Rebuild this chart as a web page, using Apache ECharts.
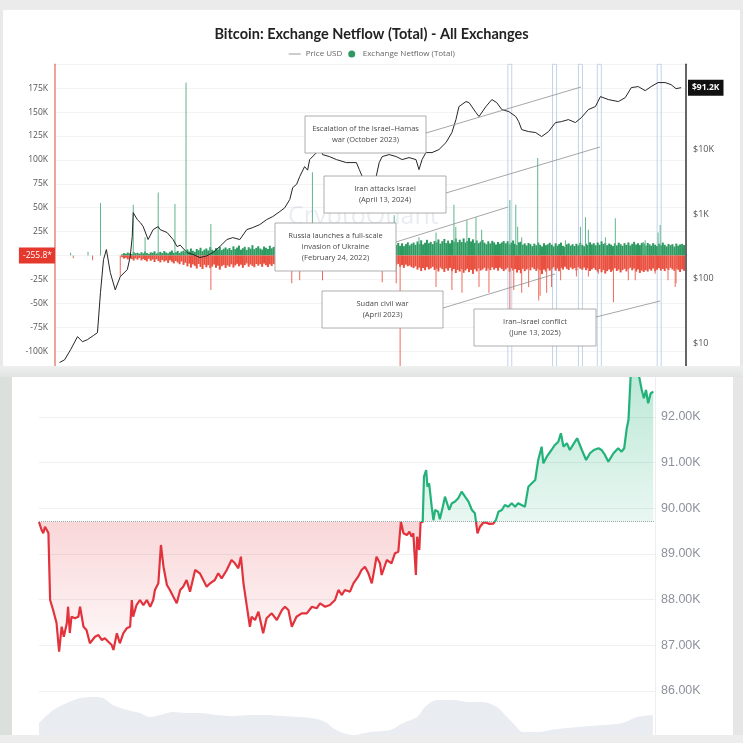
<!DOCTYPE html>
<html><head><meta charset="utf-8">
<script src="https://cdn.jsdelivr.net/npm/echarts@6/dist/echarts.min.js"></script>
<style>html,body{margin:0;padding:0;background:#e8eae9;}#c{width:743px;height:743px;}</style>
</head><body><div id="c"></div>
<script>
// ---------------- TOP CHART DATA ----------------
const priceDates = ['2012-05-03','2012-06-12','2012-07-30','2012-09-23','2012-11-01','2012-12-10','2013-01-27','2013-02-28','2013-03-24','2013-04-17','2013-05-10','2013-06-10','2013-07-19','2013-08-28','2013-10-23','2013-11-15','2013-12-01','2013-12-09','2014-01-10','2014-02-03','2014-02-26','2014-04-06','2014-05-16','2014-06-25','2014-07-10','2014-09-04','2014-10-21','2014-11-22','2014-12-16','2015-02-09','2015-03-28','2015-05-22','2015-07-16','2015-09-02','2015-10-27','2015-12-22','2016-02-07','2016-04-03','2016-05-28','2016-07-15','2016-09-08','2016-11-02','2016-12-20','2017-02-14','2017-03-25','2017-05-04','2017-05-28','2017-06-28','2017-07-22','2017-08-30','2017-09-23','2017-10-09','2017-12-03','2017-12-20','2018-01-19','2018-03-15','2018-05-10','2018-07-27','2018-10-15','2018-11-07','2018-12-01','2019-01-25','2019-03-21','2019-04-14','2019-05-08','2019-07-02','2019-08-27','2019-10-13','2019-12-07','2020-01-31','2020-02-24','2020-03-19','2020-04-19','2020-06-06','2020-07-31','2020-09-25','2020-11-11','2020-12-13','2021-01-06','2021-03-03','2021-03-27','2021-05-21','2021-06-14','2021-08-08','2021-09-24','2021-11-02','2021-12-12','2022-02-06','2022-04-02','2022-04-25','2022-05-19','2022-07-13','2022-09-07','2022-10-24','2022-12-18','2023-02-11','2023-03-30','2023-05-25','2023-07-19','2023-09-05','2023-10-30','2023-12-25','2024-02-03','2024-04-06','2024-06-24','2024-08-18','2024-10-05','2024-11-29','2025-01-23','2025-03-11','2025-05-05','2025-06-30','2025-08-16','2025-09-25','2025-11-04'];
const priceUSD = [5.0,5.5,7.9,12.6,10.5,11.3,13.1,14.5,61,197,282,124,67,107,138,219,448,1055,822,738,640,403,575,640,575,517,403,313,330,253,236,212,225,253,313,403,432,403,575,618,687,822,914,1094,1250,1679,2576,2900,3810,5445,4800,6998,8980,14300,8363,7788,6998,6283,6283,4893,3810,3427,3810,6283,7788,8363,7788,6998,7516,6998,4893,6998,8980,8980,10000,12840,18360,29170,46450,55500,53530,37500,32500,46450,59600,53530,41690,38800,32500,27160,20400,19010,18360,15920,19010,26230,27160,29170,26230,31330,41690,46450,66370,59600,55500,63970,91400,94800,82000,94800,109400,109400,101800,88000,91200];

// half-monthly netflow (1st & 16th), Sep 2013 .. Nov 2025, thousands of BTC
const netflowStartMonth = '2013-09';
const inflowK = [1.2,2.5,1.8,3.1,2.2,1.5,3.6,2.4,
 2.8,1.9,3.4,2.2,4.1,2.6,1.7,3.3,2.9,4.4,2.1,3.0,3.8,2.5,4.6,3.1,2.3,3.9,5.2,2.8,3.5,4.8,2.7,4.2,
 5.1,3.6,6.4,4.2,7.3,5.0,3.9,6.8,5.5,8.1,4.6,6.2,7.4,5.3,8.8,6.0,4.9,7.7,6.3,9.2,5.6,7.1,8.4,6.5,
 7.9,5.8,9.6,6.7,8.3,10.4,6.1,7.6,9.1,5.9,8.7,7.2,10.8,6.6,8.0,9.7,7.3,6.2,9.4,8.1,6.8,10.2,7.5,8.9,
 9.8,7.1,8.6,11.3,7.7,9.3,6.9,10.5,8.2,12.1,7.4,9.0,10.9,8.5,7.2,11.6,9.5,8.0,12.8,9.2,10.1,8.4,11.9,9.7,
 12.4,9.1,10.6,8.3,11.2,9.8,7.9,10.3,8.8,11.7,9.4,8.1,10.0,7.6,9.9,8.7,11.1,7.8,9.3,10.7,8.2,9.6,11.4,8.9,
 9.2,7.7,10.5,8.6,11.8,9.9,12.6,10.2,8.9,11.5,13.4,9.7,10.8,12.2,9.4,11.0,13.1,10.1,12.7,9.8,11.9,13.8,10.6,12.3,
 13.5,11.2,14.7,12.1,15.9,11.6,13.3,16.4,12.8,14.2,11.9,15.1,13.7,16.8,12.4,14.9,17.3,13.0,15.6,12.7,16.1,14.4,17.8,13.9,
 16.5,14.1,17.9,13.6,15.2,18.4,14.7,16.9,13.2,15.8,12.9,14.6,16.2,13.4,11.8,14.9,12.6,15.3,13.8,11.5,14.2,12.3,13.7,15.1,
 12.8,14.9,11.6,13.5,15.7,12.2,10.9,13.8,14.4,11.3,12.7,10.5,13.1,11.9,9.8,12.4,10.7,13.6,11.2,9.5,12.9,10.8,11.7,13.3,
 11.4,9.6,12.8,10.3,11.9,13.5,10.1,9.2,11.7,12.6,10.4,11.8,9.9,12.3,10.6,13.2,11.1,9.7,12.4,10.9,13.8,11.6,12.9,10.7,
 13.6,11.3,14.8,12.0,13.1,10.8,12.5,11.4,9.9,12.7,10.6,13.4,11.8,10.2,12.9,11.1,13.7,10.5,12.2,14.3,11.5,12.8,10.9,13.2,
 12.6,10.4,13.1,11.7,10.2,12.9,11.3,9.8,12.4,10.7,13.5,11.2,9.6,12.1,10.8,11.9,9.4,12.5,10.3,11.6,12.2,10.9];
const outflowK = [-1.8,-3.2,-2.4,-4.1,-2.9,-3.6,-5.2,-3.1,
 -4.3,-2.7,-5.1,-3.6,-4.8,-6.2,-3.4,-5.5,-4.1,-6.8,-3.9,-5.7,-7.2,-4.6,-6.4,-5.3,-7.8,-4.9,-6.6,-8.3,-5.8,-7.4,-9.1,-6.3,
 -9.8,-7.6,-11.4,-8.5,-12.7,-9.3,-10.8,-13.6,-8.9,-11.9,-14.2,-9.7,-12.4,-10.1,-13.3,-11.6,-9.4,-12.9,-10.7,-14.8,-11.2,-9.9,-13.1,-10.5,
 -11.8,-9.2,-12.6,-10.4,-8.7,-11.3,-9.6,-12.9,-10.1,-8.3,-11.7,-9.4,-10.8,-12.3,-8.9,-10.6,-9.1,-11.9,-8.5,-10.2,-12.1,-9.3,-10.9,-8.8,
 -9.6,-11.4,-8.2,-10.7,-12.5,-9.1,-7.9,-10.3,-11.8,-8.6,-10.9,-9.4,-12.2,-8.8,-11.1,-9.7,-13.4,-10.2,-8.9,-11.6,-12.8,-9.5,-14.1,-10.6,
 -12.3,-10.1,-13.7,-9.4,-11.2,-8.6,-10.8,-9.3,-7.9,-10.5,-8.8,-11.6,-9.2,-7.6,-10.1,-8.4,-9.7,-7.3,-8.9,-10.4,-7.8,-9.5,-11.3,-8.6,
 -9.4,-8.1,-10.6,-9.0,-11.9,-8.7,-10.3,-12.4,-9.8,-11.1,-8.9,-10.7,-12.6,-9.5,-11.4,-10.2,-8.8,-11.7,-10.0,-12.9,-9.6,-11.3,-10.5,-12.1,
 -13.2,-11.4,-14.8,-12.6,-16.3,-13.1,-15.4,-12.2,-14.6,-13.5,-11.8,-15.1,-13.9,-16.7,-12.8,-14.3,-17.2,-13.6,-15.8,-12.9,-16.4,-14.1,-18.3,-15.2,
 -16.8,-14.2,-18.1,-15.6,-13.9,-17.4,-15.1,-19.2,-14.4,-16.6,-13.3,-15.8,-14.7,-12.9,-16.1,-13.6,-15.4,-12.4,-14.8,-13.1,-15.9,-12.7,-14.2,-16.3,
 -14.6,-12.8,-16.9,-13.4,-15.7,-14.1,-17.8,-15.2,-18.6,-13.9,-16.4,-14.7,-13.2,-15.6,-12.5,-14.3,-16.1,-13.7,-15.3,-19.4,-14.8,-16.7,-13.5,-15.9,
 -14.1,-12.3,-15.8,-13.6,-16.4,-12.9,-14.7,-11.8,-13.9,-15.2,-12.6,-14.4,-13.1,-15.7,-12.2,-13.8,-14.9,-12.7,-15.4,-13.3,-16.2,-14.5,-13.0,-15.1,
 -16.8,-14.2,-17.5,-15.1,-18.9,-16.3,-14.7,-17.1,-15.6,-13.4,-16.2,-14.8,-17.7,-15.3,-13.9,-16.6,-14.1,-12.8,-15.5,-13.7,-16.9,-14.6,-18.2,-15.8,
 -17.2,-15.4,-16.8,-14.3,-15.9,-13.6,-16.5,-14.9,-13.2,-15.7,-14.1,-16.3,-13.5,-15.2,-12.9,-14.6,-16.1,-13.8,-15.0,-17.3,-14.4,-16.0];

const inflowSpikeDates = ['2012-07-30','2012-12-15','2013-03-24','2013-12-09','2014-03-13','2014-06-25','2014-11-05','2015-02-01','2015-08-17','2017-10-31','2019-08-11','2020-02-24','2020-07-08','2020-11-27','2020-12-12','2021-03-10','2021-05-21','2021-07-05','2022-02-14','2022-04-02','2022-04-17','2022-05-19','2022-09-23','2023-05-01','2023-08-28','2023-10-07','2023-10-30','2024-03-13','2024-05-31','2025-01-08','2025-01-23','2025-05-05','2025-05-22'];
const inflowSpikes = [3000,4000,55000,53000,19000,66000,54000,181000,33000,87000,42000,19000,24000,53000,30000,37000,40000,27000,58000,53000,30000,19000,102000,16000,30000,40000,27000,19000,39000,14000,16000,24000,32000];
const outflowSpikeDates = ['2012-08-20','2013-01-20','2013-08-28','2015-08-17','2017-05-20','2017-07-22','2018-01-19','2019-05-08','2019-08-27','2019-09-27','2020-07-08','2020-11-11','2021-01-30','2021-06-14','2021-09-01','2022-02-14','2022-03-17','2022-05-19','2022-07-13','2022-10-01','2022-10-12','2022-12-03','2023-01-11','2023-03-24','2023-07-27','2023-10-30','2024-01-17','2024-05-16','2024-09-11','2024-11-05','2025-04-12','2025-07-23','2025-09-18','2025-09-25'];
const outflowSpikes = [-3000,-5000,-22000,-36000,-29000,-26000,-26000,-28000,-29000,-122000,-33000,-36000,-39000,-33000,-39000,-60000,-36000,-39000,-33000,-47000,-42000,-39000,-33000,-26000,-22000,-22000,-19000,-49000,-26000,-26000,-19000,-26000,-33000,-29000];

const eventBands = [['2022-01-29','2022-03-01'],['2023-01-19','2023-02-20'],['2023-08-12','2023-09-13'],['2024-01-09','2024-02-10'],['2025-04-28','2025-05-30']];
const lastPriceLabel = '$91.2K';
const lastPrice = 91200;
const zeroLabel = '-255.8*';

const annotations = [
  {text:'Escalation of the Israel–Hamas\nwar (October 2023)', box:[305,116,121,37], line:[426,133,581,87]},
  {text:'Iran attacks Israel\n(April 13, 2024)', box:[324,176,122,37], line:[446,193,600,147]},
  {text:'Russia launches a full-scale\ninvasion of Ukraine\n(February 24, 2022)', box:[275,223,121,48], line:[396,242,508,207]},
  {text:'Sudan civil war\n(April 2023)', box:[322,291,121,37], line:[443,308,555,274]},
  {text:'Iran–Israel conflict\n(June 13, 2025)', box:[474,309,122,37], line:[596,317,660,301]}
];

// ---------------- BOTTOM CHART DATA ----------------
const intraTimes = ['00:00','00:06','00:10','00:14','00:18','00:22','00:26','00:33','00:41','00:47','00:53','00:58','01:05','01:08','01:12','01:16','01:24','01:32','01:36','01:44','01:51','01:59','02:11','02:19','02:27','02:34','02:42','02:50','02:54','03:02','03:09','03:17','03:25','03:33','03:37','03:40','03:48','03:56','04:04','04:12','04:20','04:27','04:31','04:39','04:45','04:51','04:59','05:06','05:14','05:22','05:30','05:37','05:45','05:53','06:05','06:16','06:24','06:32','06:40','06:51','06:59','07:07','07:19','07:30','07:38','07:46','07:52','07:58','08:06','08:13','08:17','08:25','08:33','08:44','08:52','09:04','09:16','09:28','09:35','09:43','09:51','10:02','10:14','10:26','10:38','10:49','10:57','11:09','11:20','11:32','11:40','11:48','11:55','12:07','12:15','12:26','12:34','12:42','12:50','12:58','13:05','13:09','13:17','13:21','13:33','13:44','13:52','14:00','14:06','14:12','14:20','14:26','14:31','14:35','14:41','14:44','14:49','14:52','14:57','15:00','15:05','15:08','15:12','15:18','15:22','15:26','15:33','15:37','15:44','15:49','15:53','15:59','16:05','16:12','16:20','16:28','16:36','16:44','16:52','16:59','17:05','17:11','17:19','17:27','17:33','17:42','17:48','17:54','18:02','18:09','18:17','18:25','18:33','18:40','18:48','18:56','19:04','19:12','19:20','19:27','19:35','19:39','19:47','19:58','20:06','20:14','20:20','20:26','20:34','20:41','20:53','20:58','21:09','21:19','21:28','21:37','21:48','21:55','22:03','22:11','22:23','22:34','22:42','22:48','22:54','22:58','23:03','23:09','23:17','23:23','23:29','23:34','23:39','23:44','23:50','23:56'];
const intraPrice = [89700,89526,89453,89598,89635,89460,87993,87774,87489,86861,87408,87189,87483,87846,87270,87627,87592,87627,87846,87408,87336,87045,87189,87226,87117,87154,87080,87007,86898,87263,87045,87263,87373,87408,87993,87627,87883,87993,87883,87993,87846,87993,88212,88358,89197,88722,88321,88212,88065,87920,88212,88284,88431,88175,88650,88577,88431,88284,88358,88431,88577,88468,88650,88869,88796,88687,88941,88358,87846,87408,87627,87555,87737,87263,87592,87701,87555,87774,87846,87774,87408,87627,87701,87701,87846,87811,87920,87846,87883,87993,88212,88102,88212,88175,88358,88503,88650,88722,88577,88358,88722,88941,88796,88540,88869,88796,89015,89050,89705,89453,89416,89488,89379,89453,88540,89379,89088,89690,89700,90693,90839,90474,90548,90036,89740,89964,89926,89760,90036,90255,90292,89964,90110,90145,90220,90364,90255,90145,89964,89891,89453,89598,89690,89680,89660,89665,89740,89926,89964,90073,90036,90110,90036,90110,90073,90036,90474,90548,90620,91058,91350,90986,91131,91277,91387,91459,91643,91350,91424,91277,91459,91534,91277,91058,91205,91277,91315,91277,91168,91021,91205,91315,91240,91315,91753,91934,92882,92957,92920,92882,92591,92409,92591,92300,92519,92554];
const referencePrice = 89710;
const volumeTimes = ['00:00','00:33','01:05','01:36','02:11','02:30','02:53','03:26','03:56','04:19','04:43','05:13','05:46','06:16','06:56','07:34','08:13','08:53','09:30','10:10','10:50','11:13','11:27','11:51','12:14','12:54','13:41','14:11','14:44','15:02','15:30','16:08','16:48','17:18','17:51','18:05','18:28','18:51','19:24','20:11','20:58','21:58','22:45','23:18','23:55'];
const volume = [12,25,32,37,38,37,30,25,22,18,20,23,22,22,20,19,20,20,19,18,16,12,7,2,0,3,5,12,18,28,35,35,33,33,28,22,12,3,3,6,8,10,12,18,20];

// ---------------- BUILD ----------------
function halfMonthDates(start, n){
  const [y0,m0] = start.split('-').map(Number); const out=[];
  for(let i=0;i<n;i++){const mm=m0-1+Math.floor(i/2); out.push((y0+Math.floor(mm/12))+'-'+String(mm%12+1).padStart(2,'0')+(i%2?'-23':'-08'));}
  return out;
}
const nfDates = halfMonthDates(netflowStartMonth, inflowK.length);
const toMin = t => { const [h,m]=t.split(':').map(Number); return h*60+m; };
const zip = (a,b) => a.map((d,i)=>[d,b[i]]);

const GREEN='#2e9a62', RED='#e9503f';
const UP='#22b27a', DOWN='#e2333d';
const chart = echarts.init(document.getElementById('c'), null, {renderer:'canvas'});

const graphics = [
  {type:'rect', z:-10, shape:{x:0,y:0,width:743,height:10}, style:{fill:'#ebebeb'}},
  {type:'rect', z:-9, shape:{x:3,y:10,width:737,height:356}, style:{fill:'#ffffff'}},
  {type:'rect', z:-9, shape:{x:12,y:377,width:721,height:358}, style:{fill:'#ffffff'}},
  {type:'text', z:1, style:{x:288, y:204, text:'CryptoQuant', fontSize:25, fontFamily:'Open Sans', fill:'rgba(120,140,175,0.16)'}},
  {type:'rect', z:200, shape:{x:0,y:366,width:743,height:11}, style:{fill:new echarts.graphic.LinearGradient(0,0,0,1,[{offset:0,color:'#eef0ef'},{offset:1,color:'#e2e4e3'}])}},
  {type:'rect', z:200, shape:{x:0,y:735,width:743,height:8}, style:{fill:'#ecedec'}},
  {type:'rect', z:200, shape:{x:0,y:377,width:12,height:358}, style:{fill:'#dbe0dc'}},
  {type:'rect', z:200, shape:{x:733,y:377,width:10,height:358}, style:{fill:'#e6e6e6'}}
];
annotations.forEach(a=>{
  graphics.push({type:'line', z:60, shape:{x1:a.line[0],y1:a.line[1],x2:a.line[2],y2:a.line[3]}, style:{stroke:'#8f8f8f', lineWidth:0.8}});
  graphics.push({type:'rect', z:61, shape:{x:a.box[0],y:a.box[1],width:a.box[2],height:a.box[3]}, style:{fill:'#fff', stroke:'#9a9a9a', lineWidth:0.8}});
  graphics.push({type:'text', z:62, style:{x:a.box[0]+a.box[2]/2, y:a.box[1]+a.box[3]/2, text:a.text, align:'center', verticalAlign:'middle', fontSize:7.5, lineHeight:11, fontFamily:'Open Sans', fill:'#4a4a4a'}});
});

const option = {
  backgroundColor:'#e8eae9',
  animation:false,
  textStyle:{fontFamily:'Open Sans'},
  title:{text:'Bitcoin: Exchange Netflow (Total) - All Exchanges', left:'center', top:22, textStyle:{fontFamily:'Lato', fontWeight:'bold', fontSize:14.5, color:'#222'}},
  legend:{top:45, left:'center', itemWidth:12, itemHeight:7, itemGap:6, textStyle:{fontSize:8, color:'#666'},
    data:[{name:'Price USD', itemStyle:{opacity:0}, lineStyle:{color:'#9a9a9a', width:1}}, {name:'Exchange Netflow (Total)', icon:'circle'}]},
  grid:[
    {left:55, right:57, top:64.3, bottom:368},
    {left:39, right:88, top:371.3, bottom:6.3},
    {left:39, right:88, top:690, bottom:8}
  ],
  xAxis:[
    {type:'time', gridIndex:0, min:'2012-04-01', max:'2025-12-01', show:false},
    {type:'value', gridIndex:1, min:0, max:1440, show:false},
    {type:'value', gridIndex:2, min:0, max:1440, show:false}
  ],
  yAxis:[
    {type:'value', gridIndex:0, position:'left', min:-125000, max:200000, interval:25000,
     axisLine:{show:true, onZero:false, lineStyle:{color:'#e8857b', width:1.5}}, axisTick:{show:false},
     splitLine:{lineStyle:{color:'#f3f3f3'}},
     axisLabel:{margin:0, fontSize:8.5, color:'#555',
       formatter:v=> v===0 ? '{z|'+zeroLabel+'}' : (v>=200000||v<=-125000 ? '' : '{n|'+(v/1000)+'K}'),
       rich:{n:{fontSize:8.5, color:'#555', padding:[0,7,0,0]}, z:{fontSize:8.5, color:'#fff', backgroundColor:'#e5392e', padding:[4,3,3,4]}}}},
    {type:'log', logBase:10, gridIndex:0, position:'right', min:3.2, max:210000,
     axisLine:{show:true, onZero:false, lineStyle:{color:'#333', width:1.5}}, axisTick:{show:false}, splitLine:{show:false},
     axisLabel:{fontSize:9, color:'#555', margin:7, showMinLabel:false, showMaxLabel:false,
       formatter:v=>{const l=Math.log10(v), r=Math.round(l); if(Math.abs(l-r)>0.01||r<1||r>4) return ''; return r>=3 ? '$'+Math.pow(10,r-3)+'K' : '$'+Math.pow(10,r);}}},
    {type:'value', gridIndex:1, position:'right', min:85000, max:93000, interval:1000,
     axisLine:{show:true, onZero:false, lineStyle:{color:'#eceef1'}}, axisTick:{show:false},
     splitLine:{lineStyle:{color:'#eef0f3'}},
     axisLabel:{fontFamily:'Liberation Sans', fontSize:12.5, color:'#8d929b', margin:6,
       formatter:v=> (v<=85000||v>=93000) ? '' : (v/1000).toFixed(2)+'K'}},
    {type:'value', gridIndex:2, min:0, max:45, show:false}
  ],
  visualMap:{type:'piecewise', show:false, seriesIndex:5, dimension:1,
    pieces:[{gte:80000, lt:referencePrice, color:DOWN}, {gte:referencePrice, lte:100000, color:UP}]},
  series:[
    {name:'Exchange Netflow (Total)', type:'bar', xAxisIndex:0, yAxisIndex:0, barWidth:2, barGap:'-100%', itemStyle:{color:GREEN}, data:zip(nfDates, inflowK.map(v=>v*1000))},
    {name:'Outflow', type:'bar', xAxisIndex:0, yAxisIndex:0, barWidth:2, barGap:'-100%', itemStyle:{color:RED}, data:zip(nfDates, outflowK.map(v=>v*1000))},
    {name:'Inflow spikes', type:'bar', xAxisIndex:0, yAxisIndex:0, barWidth:1, barGap:'-100%', itemStyle:{color:'#5fb58a'}, data:zip(inflowSpikeDates, inflowSpikes)},
    {name:'Outflow spikes', type:'bar', xAxisIndex:0, yAxisIndex:0, barWidth:1, barGap:'-100%', itemStyle:{color:'#ec6a5c'}, data:zip(outflowSpikeDates, outflowSpikes)},
    {name:'Price USD', type:'line', xAxisIndex:0, yAxisIndex:1, symbol:'none', z:5,
     lineStyle:{color:'#262626', width:1}, itemStyle:{color:'#262626'},
     data:zip(priceDates, priceUSD),
     markArea:{silent:true, itemStyle:{color:'rgba(255,255,255,0)', borderColor:'#c3d2ea', borderWidth:1},
       data:eventBands.map(b=>[{xAxis:b[0]},{xAxis:b[1]}])},
     markLine:{silent:true, symbol:'none', lineStyle:{color:'rgba(0,0,0,0)', width:0},
       label:{show:true, position:'end', distance:2, formatter:lastPriceLabel, backgroundColor:'#111', color:'#fff', fontSize:8.5, fontWeight:'bold', padding:[4,4,3,4]},
       data:[{yAxis:lastPrice}]}},
    {name:'BTC intraday', type:'line', xAxisIndex:1, yAxisIndex:2, symbol:'none', z:5,
     lineStyle:{width:2.2},
     areaStyle:{origin:referencePrice, opacity:0.16},
     data:intraTimes.map((t,i)=>[toMin(t), intraPrice[i]]),
     markLine:{silent:true, symbol:'none', label:{show:false}, lineStyle:{type:'dotted', color:'#a0a5ab', width:1},
       data:[{yAxis:referencePrice}]}},
    {name:'Volume', type:'line', xAxisIndex:2, yAxisIndex:3, symbol:'none', smooth:0.3,
     lineStyle:{width:0}, areaStyle:{color:'#e9edf2', opacity:1},
     data:volumeTimes.map((t,i)=>[toMin(t), volume[i]])}
  ],
  graphic:graphics
};
chart.setOption(option);

// area fill gradient: fades away from the reference line, positioned with the axis scale
const yHi = chart.convertToPixel({yAxisIndex:2}, Math.max(...intraPrice));
const yLo = chart.convertToPixel({yAxisIndex:2}, Math.min(...intraPrice));
const yRef = chart.convertToPixel({yAxisIndex:2}, referencePrice);
const f = (yRef - yHi) / (yLo - yHi);
chart.setOption({series:[{}, {}, {}, {}, {}, {
  areaStyle:{origin:referencePrice, opacity:1, color:new echarts.graphic.LinearGradient(0, yHi, 0, yLo, [
    {offset:0, color:'rgba(34,178,122,0.30)'}, {offset:f, color:'rgba(34,178,122,0.10)'},
    {offset:f, color:'rgba(226,51,61,0.20)'}, {offset:1, color:'rgba(226,51,61,0.03)'}], true)}
}]});
</script></body></html>
